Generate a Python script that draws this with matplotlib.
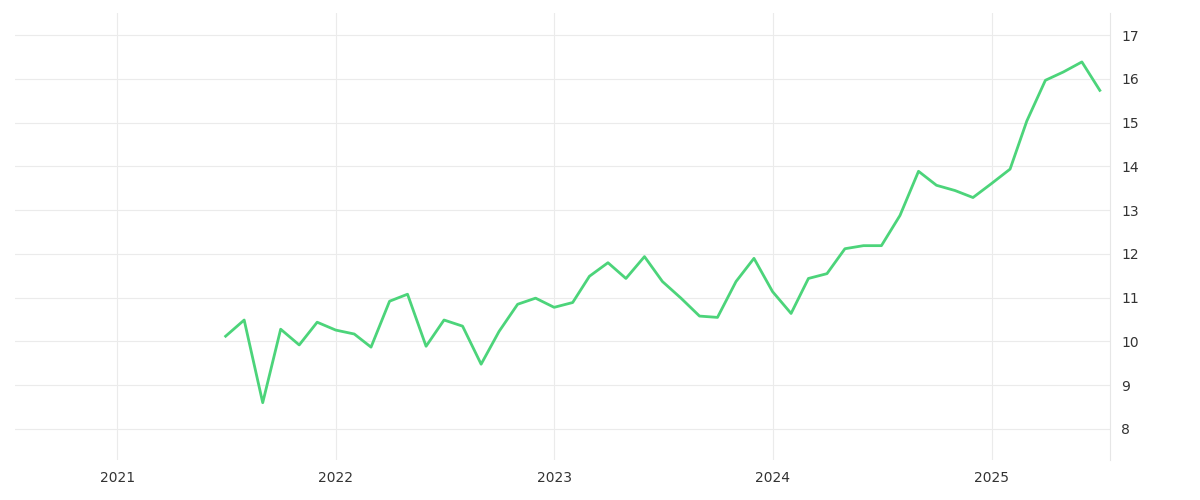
import matplotlib
matplotlib.use("Agg")
import matplotlib.pyplot as plt
import pandas as pd

start = "2021-07-01"
values = [10.12,10.49,8.6,10.28,9.92,10.44,10.26,10.17,9.87,10.92,11.08,9.89,10.49,10.35,9.48,10.23,
          10.85,10.99,10.78,10.89,11.49,11.80,11.44,11.94,11.37,10.99,10.58,10.55,11.37,11.90,11.14,10.64,
          11.44,11.55,12.12,12.19,12.19,12.88,13.89,13.57,13.45,13.29,13.61,13.94,15.04,15.97,16.16,16.39,15.74]
dates = pd.date_range(start, periods=len(values), freq="MS")
yticks = [8,9,10,11,12,13,14,15,16,17]
years = [2021,2022,2023,2024,2025]

fig = plt.figure(figsize=(12,5), dpi=100)
ax = fig.add_axes([0.0125, 0.08, 0.9125, 0.895])
ax.plot(dates, values, color="#4cd47a", lw=2)
ax.set_xlim(pd.Timestamp("2020-07-14"), pd.Timestamp("2025-07-18"))
ax.set_ylim(7.29, 17.52)
ax.set_yticks(yticks)
ax.set_xticks([pd.Timestamp(f"{y}-01-01") for y in years])
ax.set_xticklabels([str(y) for y in years])
ax.yaxis.tick_right()
ax.grid(True, color="#ebebeb", lw=0.8)
for s in ["top","left","bottom"]:
    ax.spines[s].set_visible(False)
ax.spines["right"].set_color("#e6e6e6")
ax.tick_params(length=0, labelsize=10, colors="#333333", pad=8)
fig.savefig("out.png")
